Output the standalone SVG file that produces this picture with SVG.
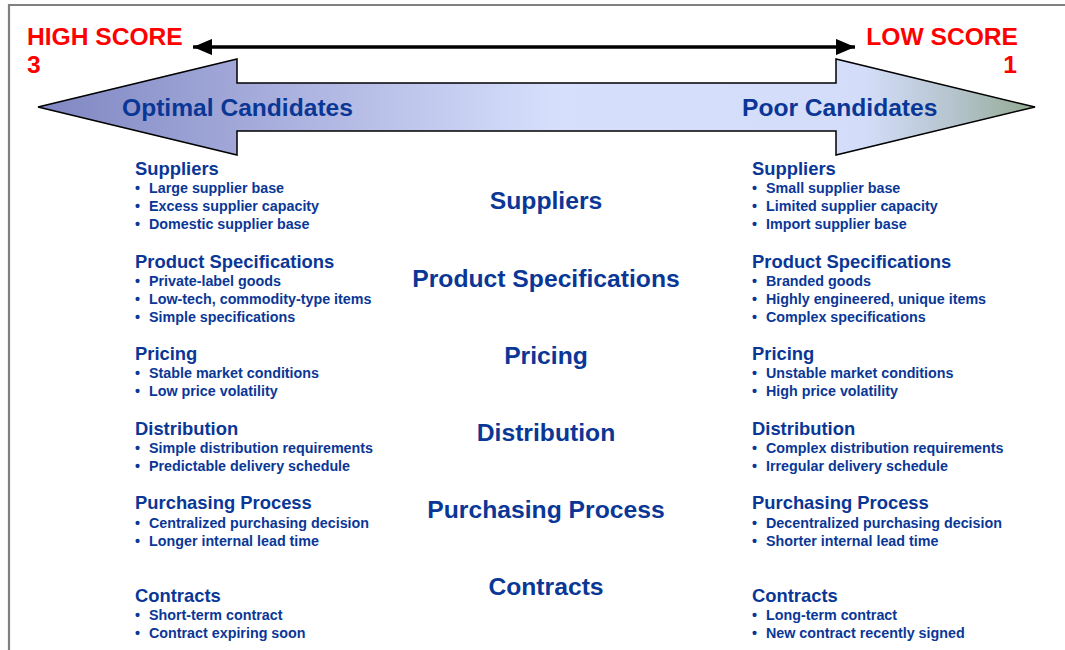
<svg xmlns="http://www.w3.org/2000/svg" width="1065" height="650" viewBox="0 0 1065 650">
<defs>
<linearGradient id="bandGrad" x1="38" y1="0" x2="1035" y2="0" gradientUnits="userSpaceOnUse">
<stop offset="0" stop-color="#7f86c2"/>
<stop offset="0.25" stop-color="#aab1de"/>
<stop offset="0.52" stop-color="#d6e0fc"/>
<stop offset="0.83" stop-color="#d3ddf9"/>
<stop offset="0.92" stop-color="#b4c3cc"/>
<stop offset="1" stop-color="#92aa90"/>
</linearGradient>
<marker id="headEnd" viewBox="0 0 10 10" refX="10" refY="5" markerWidth="5.4" markerHeight="4.6" markerUnits="strokeWidth" orient="auto" preserveAspectRatio="none">
<path d="M0,0 L10,5 L0,10 Z" fill="#000"/>
</marker>
<marker id="headStart" viewBox="0 0 10 10" refX="0" refY="5" markerWidth="5.4" markerHeight="4.6" markerUnits="strokeWidth" orient="auto" preserveAspectRatio="none">
<path d="M10,0 L0,5 L10,10 Z" fill="#000"/>
</marker>
</defs>
<style>
text{font-family:"Liberation Sans",Arial,sans-serif;font-weight:bold;}
.score{fill:#ff0000;font-size:24.6px;}
.band{fill:#0a3796;font-size:24.6px;}
.center{fill:#0a3796;font-size:24.7px;text-anchor:middle;}
.head{fill:#0a3796;font-size:18.4px;}
.item{fill:#0a3796;font-size:14.3px;}
</style>
<rect width="1065" height="650" fill="#ffffff"/>
<path d="M9,650 L9,5 L1065,5" fill="none" stroke="#808080" stroke-width="2.2"/>

<g id="score-high">
<text class="score" x="27" y="45">HIGH SCORE</text>
<text class="score" x="27" y="73">3</text>
</g>
<g id="score-low">
<text class="score" x="1018" y="45" text-anchor="end">LOW SCORE</text>
<text class="score" x="1017" y="73" text-anchor="end">1</text>
</g>

<g id="connectors">
<line x1="193" y1="47" x2="855" y2="47" stroke="#000" stroke-width="3.6" marker-start="url(#headStart)" marker-end="url(#headEnd)"/>
</g>

<g id="band-arrow">
<path d="M38,107 L237,59 L237,83 L836,83 L836,59 L1035,107 L836,155 L836,131 L237,131 L237,155 Z" fill="url(#bandGrad)" stroke="#000" stroke-width="1.5" stroke-linejoin="miter"/>
<text class="band" x="122" y="116">Optimal Candidates</text>
<text class="band" x="742" y="116">Poor Candidates</text>
</g>

<g id="center-labels">
<text class="center" x="546" y="209">Suppliers</text>
<text class="center" x="546" y="287">Product Specifications</text>
<text class="center" x="546" y="364">Pricing</text>
<text class="center" x="546" y="441">Distribution</text>
<text class="center" x="546" y="518">Purchasing Process</text>
<text class="center" x="546" y="595">Contracts</text>
</g>

<g id="optimal-suppliers">
<text class="head" x="135" y="175">Suppliers</text>
<text class="item" x="135" y="193">•</text><text class="item" x="149" y="193">Large supplier base</text>
<text class="item" x="135" y="211">•</text><text class="item" x="149" y="211">Excess supplier capacity</text>
<text class="item" x="135" y="229">•</text><text class="item" x="149" y="229">Domestic supplier base</text>
</g>
<g id="optimal-product">
<text class="head" x="135" y="268">Product Specifications</text>
<text class="item" x="135" y="286">•</text><text class="item" x="149" y="286">Private-label goods</text>
<text class="item" x="135" y="304">•</text><text class="item" x="149" y="304">Low-tech, commodity-type items</text>
<text class="item" x="135" y="322">•</text><text class="item" x="149" y="322">Simple specifications</text>
</g>
<g id="optimal-pricing">
<text class="head" x="135" y="360">Pricing</text>
<text class="item" x="135" y="378">•</text><text class="item" x="149" y="378">Stable market conditions</text>
<text class="item" x="135" y="396">•</text><text class="item" x="149" y="396">Low price volatility</text>
</g>
<g id="optimal-distribution">
<text class="head" x="135" y="435">Distribution</text>
<text class="item" x="135" y="453">•</text><text class="item" x="149" y="453">Simple distribution requirements</text>
<text class="item" x="135" y="471">•</text><text class="item" x="149" y="471">Predictable delivery schedule</text>
</g>
<g id="optimal-purchasing">
<text class="head" x="135" y="509">Purchasing Process</text>
<text class="item" x="135" y="528">•</text><text class="item" x="149" y="528">Centralized purchasing decision</text>
<text class="item" x="135" y="546">•</text><text class="item" x="149" y="546">Longer internal lead time</text>
</g>
<g id="optimal-contracts">
<text class="head" x="135" y="602">Contracts</text>
<text class="item" x="135" y="620">•</text><text class="item" x="149" y="620">Short-term contract</text>
<text class="item" x="135" y="638">•</text><text class="item" x="149" y="638">Contract expiring soon</text>
</g>

<g id="poor-suppliers">
<text class="head" x="752" y="175">Suppliers</text>
<text class="item" x="752" y="193">•</text><text class="item" x="766" y="193">Small supplier base</text>
<text class="item" x="752" y="211">•</text><text class="item" x="766" y="211">Limited supplier capacity</text>
<text class="item" x="752" y="229">•</text><text class="item" x="766" y="229">Import supplier base</text>
</g>
<g id="poor-product">
<text class="head" x="752" y="268">Product Specifications</text>
<text class="item" x="752" y="286">•</text><text class="item" x="766" y="286">Branded goods</text>
<text class="item" x="752" y="304">•</text><text class="item" x="766" y="304">Highly engineered, unique items</text>
<text class="item" x="752" y="322">•</text><text class="item" x="766" y="322">Complex specifications</text>
</g>
<g id="poor-pricing">
<text class="head" x="752" y="360">Pricing</text>
<text class="item" x="752" y="378">•</text><text class="item" x="766" y="378">Unstable market conditions</text>
<text class="item" x="752" y="396">•</text><text class="item" x="766" y="396">High price volatility</text>
</g>
<g id="poor-distribution">
<text class="head" x="752" y="435">Distribution</text>
<text class="item" x="752" y="453">•</text><text class="item" x="766" y="453">Complex distribution requirements</text>
<text class="item" x="752" y="471">•</text><text class="item" x="766" y="471">Irregular delivery schedule</text>
</g>
<g id="poor-purchasing">
<text class="head" x="752" y="509">Purchasing Process</text>
<text class="item" x="752" y="528">•</text><text class="item" x="766" y="528">Decentralized purchasing decision</text>
<text class="item" x="752" y="546">•</text><text class="item" x="766" y="546">Shorter internal lead time</text>
</g>
<g id="poor-contracts">
<text class="head" x="752" y="602">Contracts</text>
<text class="item" x="752" y="620">•</text><text class="item" x="766" y="620">Long-term contract</text>
<text class="item" x="752" y="638">•</text><text class="item" x="766" y="638">New contract recently signed</text>
</g>
</svg>
